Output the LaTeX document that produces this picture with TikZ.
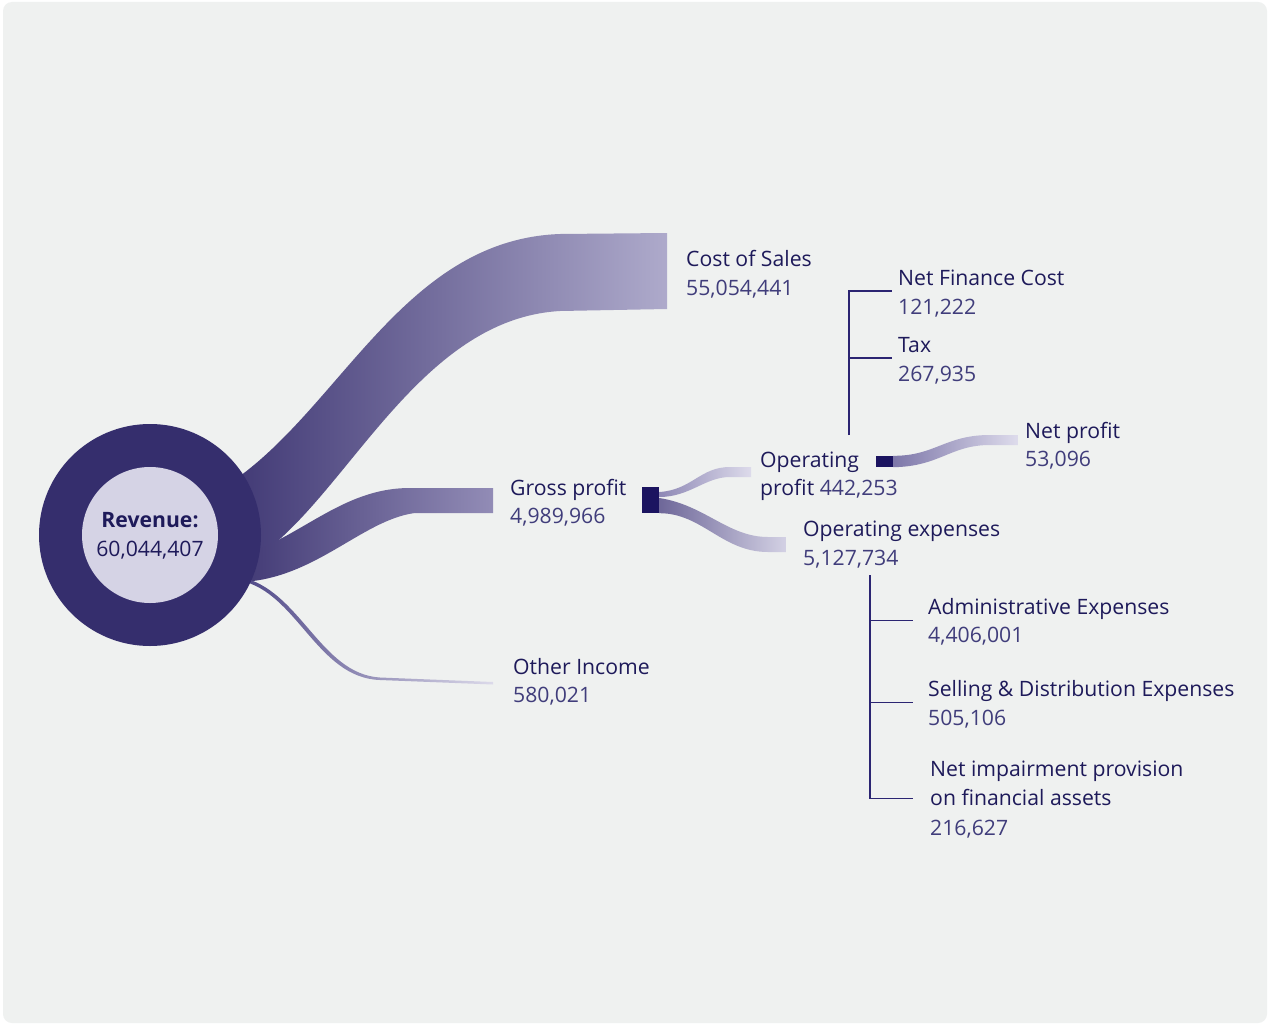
\documentclass[tikz,border=0pt]{standalone}
\usepackage{fontspec}
\setmainfont{Open Sans}
\definecolor{bg}{HTML}{EFF1F0}
\definecolor{ring}{HTML}{352E6D}
\definecolor{core}{HTML}{D5D3E5}
\definecolor{ink}{HTML}{1E1A5A}
\definecolor{num}{HTML}{403D7B}
\definecolor{hub}{HTML}{1B1460}
\definecolor{rule}{HTML}{2B2572}
\definecolor{csL}{HTML}{39316F}
\definecolor{csR}{HTML}{AEAACB}
\definecolor{gpL}{HTML}{3E3672}
\definecolor{gpR}{HTML}{928CB6}
\definecolor{oiL}{HTML}{4E4787}
\definecolor{oiR}{HTML}{DCDAEA}
\definecolor{opL}{HTML}{8E88B5}
\definecolor{opR}{HTML}{DDDBEB}
\definecolor{oxL}{HTML}{6E6799}
\definecolor{oxR}{HTML}{D3D1E4}
\definecolor{npL}{HTML}{7D77A9}
\definecolor{npR}{HTML}{DEDCEC}
\newcommand\labelsize{\fontsize{21.2}{25}\selectfont}
\tikzset{
  lbl/.style={anchor=base west, inner sep=0pt, text=ink, font=\labelsize},
  val/.style={anchor=base west, inner sep=0pt, text=num, font=\labelsize},
  hubbox/.style={rectangle, fill=hub, inner sep=0pt, draw=none},
  tree/.style={draw=rule, line width=1.4pt},
}
\begin{document}
\begin{tikzpicture}[x=1pt,y=-1pt]
\useasboundingbox (0,0) rectangle (1268,1025);
\fill[white] (0,0) rectangle (1268,1025);
\fill[bg, rounded corners=9pt] (3,2) rectangle (1267,1023);

% ---- flow ends
\coordinate (csT) at (667,233);
\coordinate (csB) at (667,309);
\coordinate (gpT) at (493,488);
\coordinate (gpB) at (493,513);
\coordinate (oiT) at (493,682);
\coordinate (oiB) at (493,684.5);

% ---- hubs
\node[hubbox, minimum width=17pt, minimum height=26pt] (gp) at (650.5,500) {};
\node[hubbox, minimum width=17pt, minimum height=11pt] (op) at (884.5,461.5) {};

% ---- revenue to cost of sales
\shade[left color=csL, right color=csR]
  (200,500) .. controls (330,440) and (390,240) .. (560,234) -- (csT)
  -- (csB) -- (560,311) .. controls (400,320) and (330,545) .. (220,575) -- cycle;

% ---- revenue to gross profit
\shade[left color=gpL, right color=gpR]
  (230,560) .. controls (300,540) and (340,488) .. (410,488) -- (gpT)
  -- (gpB) -- (415,513) .. controls (360,520) and (310,585) .. (230,582) -- cycle;

% ---- revenue to other income
\shade[left color=oiL, right color=oiR]
  (240,577) .. controls (300,589) and (320,674) .. (380,677.5) -- (oiT)
  -- (oiB) -- (380,680) .. controls (317,678) and (297,592) .. (240,580.5) -- cycle;

% ---- gross profit to operating profit
\coordinate (opT) at (751,467);
\coordinate (opB) at (751,477);
\shade[left color=opL, right color=opR]
  ([yshift=8pt]gp.east) .. controls (692,490) and (700,467) .. (730,467) -- (opT)
  -- (opB) -- (730,477) .. controls (705,477) and (690,497) .. ([yshift=3pt]gp.east) -- cycle;

% ---- gross profit to operating expenses
\coordinate (oxT) at (786,537);
\coordinate (oxB) at (786,552);
\shade[left color=oxL, right color=oxR]
  ([yshift=2pt]gp.east) .. controls (705,505) and (728,537) .. (768,537) -- (oxT)
  -- (oxB) -- (768,552) .. controls (722,552) and (702,513) .. (gp.south east) -- cycle;

% ---- operating profit to net profit
\coordinate (npT) at (1018,435);
\coordinate (npB) at (1018,445);
\shade[left color=npL, right color=npR]
  (op.north east) .. controls (935,456) and (945,435) .. (990,435) -- (npT)
  -- (npB) -- (990,445) .. controls (950,445) and (940,466.5) .. (op.south east) -- cycle;

% ---- revenue circle
\node[circle, fill=ring, minimum size=222pt, inner sep=0pt] (rev) at (150,535) {};
\node[circle, fill=core, minimum size=136pt, inner sep=0pt] (revin) at (rev.center) {};
\node[anchor=base, inner sep=0pt, text=ink, font=\labelsize\bfseries] (revt) at (150,527.3) {Revenue:};
\node[anchor=base, inner sep=0pt, text=ink, font=\labelsize] (revv) at (150,556.7) {60,044,407};

% ---- labels
\node[lbl] (cs) at (686,266) {Cost of Sales};
\node[val] (csv) at (686,295) {55,054,441};
\node[lbl] (gpl) at (510,495) {Gross profit};
\node[val] (gpv) at (510,523.3) {4,989,966};
\node[lbl] (oil) at (513,674) {Other Income};
\node[val] (oiv) at (513,702.5) {580,021};
\node[lbl] (opl) at (760,467.3) {Operating};
\node[lbl] (opl2) at (760,495) {profit \textcolor{num}{442,253}};
\node[lbl] (oxl) at (803,536.7) {Operating expenses};
\node[val] (oxv) at (803,565) {5,127,734};
\node[lbl] (npl) at (1025,438.3) {Net profit};
\node[val] (npv) at (1025,466.7) {53,096};
\node[lbl] (nfc) at (898,285.7) {Net Finance Cost};
\node[val] (nfcv) at (898,314.3) {121,222};
\node[lbl] (tax) at (898,352.7) {Tax};
\node[val] (taxv) at (898,381.7) {267,935};
\node[lbl] (adm) at (928,614) {Administrative Expenses};
\node[val] (admv) at (928,642.7) {4,406,001};
\node[lbl] (sel) at (928,696) {Selling \& Distribution Expenses};
\node[val] (selv) at (928,725) {505,106};
\node[lbl] (imp) at (930,776.7) {Net impairment provision};
\node[lbl] (imp2) at (930,805) {on financial assets};
\node[val] (impv) at (930,835) {216,627};

% ---- deductions from operating profit
\coordinate (uTop) at (849,291);
\coordinate (uBot) at (849,435);
\coordinate (uTax) at (849,358);
\draw[tree] (uBot) -- (uTop) -- ([xshift=-6pt]nfc.west |- uTop);
\draw[tree] (uTax) -- ([xshift=-6pt]tax.west |- uTax);

% ---- breakdown of operating expenses
\coordinate (lTop) at (870,575);
\coordinate (lAdm) at (870,620.7);
\coordinate (lSel) at (870,702.3);
\coordinate (lImp) at (870,798.3);
\draw[tree] (lTop) -- (lImp) -- ([xshift=-17pt]imp.west |- lImp);
\draw[tree] (lAdm) -- ([xshift=-15pt]adm.west |- lAdm);
\draw[tree] (lSel) -- ([xshift=-15pt]sel.west |- lSel);
\end{tikzpicture}
\end{document}
